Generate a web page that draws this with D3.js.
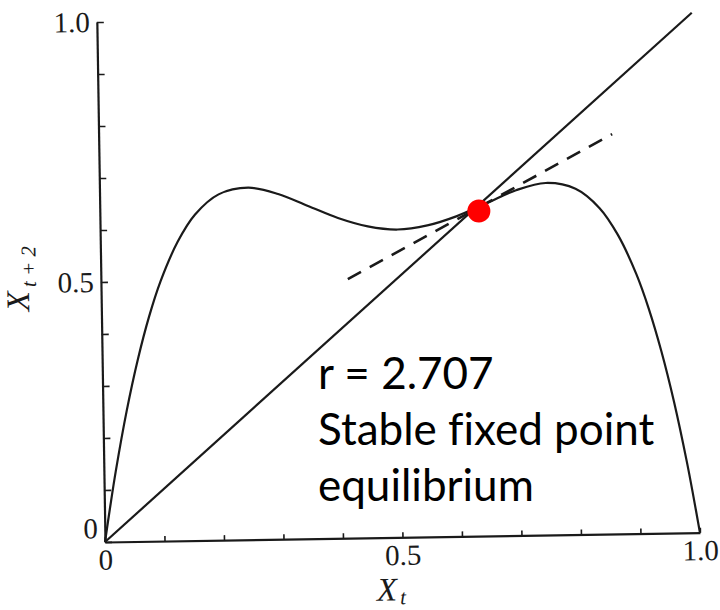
<!DOCTYPE html>
<html>
<head>
<meta charset="utf-8">
<script src="https://cdn.jsdelivr.net/npm/d3@7"></script>
<style>
  body { margin: 0; background: #fff; }
</style>
</head>
<body>
<div id="chart"></div>
<script>
// values (second iterate of the logistic map)
var curveX = [0, 0.01, 0.02, 0.04, 0.06, 0.08, 0.10, 0.13, 0.16, 0.20, 0.25, 0.30, 0.35, 0.40, 0.45, 0.50,
              0.55, 0.60, 0.65, 0.70, 0.75, 0.80, 0.84, 0.87, 0.90, 0.92, 0.94, 0.96, 0.98, 0.99, 1.0];
var curveY = [0, 0.07, 0.136, 0.252, 0.35, 0.432, 0.499, 0.575, 0.627, 0.665, 0.677, 0.664, 0.64, 0.616, 0.599, 0.592,
              0.599, 0.616, 0.64, 0.664, 0.677, 0.665, 0.627, 0.575, 0.499, 0.432, 0.35, 0.252, 0.136, 0.07, 0];
var diagX = [0, 1];
var diagY = [0, 1];
var tangentX = [0.415, 0.863];
var tangentY = [0.498, 0.769];
var fixedX = [0.637];
var fixedY = [0.625];
var tickVals = [0, 0.1, 0.2, 0.3, 0.4, 0.5, 0.6, 0.7, 0.8, 0.9, 1.0];
var tickLabels = {0: '0', 0.5: '0.5', 1: '1.0'};
var noteLines = ['r = 2.707', 'Stable fixed point', 'equilibrium'];

var width = 720;
var height = 610;
var svg = d3.select('#chart')
    .append('svg')
    .attr('width', width)
    .attr('height', height);

var x = d3.scaleLinear().domain([0, 1]).range([105, 700]);
var y = d3.scaleLinear().domain([0, 1]).range([542, 22]);

// the scan is slightly tilted
var plot = svg.append('g')
    .attr('transform', 'rotate(-0.9,' + x(0) + ',' + y(0) + ')');

var ink = '#1a1a1a';

// Axes
var xAxis = d3.axisBottom(x)
    .tickValues(tickVals)
    .tickSizeInner(-5)
    .tickSizeOuter(0)
    .tickPadding(7)
    .tickFormat(function(d) { return tickLabels[d] || ''; });

var yAxis = d3.axisLeft(y)
    .tickValues(tickVals)
    .tickSizeInner(-7)
    .tickSizeOuter(0)
    .tickPadding(7)
    .tickFormat(function(d) { return tickLabels[d] || ''; });

var gx = plot.append('g')
    .attr('transform', 'translate(0,' + y(0) + ')')
    .call(xAxis);
var gy = plot.append('g')
    .attr('transform', 'translate(' + x(0) + ',0)')
    .call(yAxis);

[gx, gy].forEach(function(g) {
  g.select('.domain').attr('stroke', ink).attr('stroke-width', 2.2);
  g.selectAll('.tick line').attr('stroke', ink).attr('stroke-width', 1.6);
  g.selectAll('.tick text')
      .attr('font-family', '"Liberation Serif", "DejaVu Serif", serif')
      .attr('font-size', 29)
      .attr('fill', ink);
});
gy.selectAll('.tick text')
    .filter(function(d) { return d === 0; })
    .attr('dy', '-0.15em');

// Lines
var line = d3.line()
    .x(function(d) { return x(d[0]); })
    .y(function(d) { return y(d[1]); });

plot.append('path')
    .datum(d3.zip(diagX, diagY))
    .attr('d', line)
    .attr('fill', 'none')
    .attr('stroke', ink)
    .attr('stroke-width', 2.2);

plot.append('path')
    .datum(d3.zip(curveX, curveY))
    .attr('d', line.curve(d3.curveCatmullRom.alpha(0.5)))
    .attr('fill', 'none')
    .attr('stroke', ink)
    .attr('stroke-width', 2.2);

plot.append('path')
    .datum(d3.zip(tangentX, tangentY))
    .attr('d', d3.line().x(function(d) { return x(d[0]); }).y(function(d) { return y(d[1]); }))
    .attr('fill', 'none')
    .attr('stroke', ink)
    .attr('stroke-width', 2.6)
    .attr('stroke-dasharray', '15,10');

plot.selectAll('circle.fixed')
    .data(d3.zip(fixedX, fixedY))
    .enter()
    .append('circle')
    .attr('class', 'fixed')
    .attr('cx', function(d) { return x(d[0]); })
    .attr('cy', function(d) { return y(d[1]); })
    .attr('r', 11.5)
    .attr('fill', '#ff0000');

// Axis titles
var yTitle = plot.append('text')
    .attr('transform', 'translate(33,310) rotate(-90)')
    .attr('font-family', '"Liberation Serif", "DejaVu Serif", serif')
    .attr('font-style', 'italic')
    .attr('fill', ink);
yTitle.append('tspan').attr('font-size', 33).text('X');
yTitle.append('tspan').attr('font-size', 21).attr('dx', 4).attr('dy', 7).text('t + 2');

var xTitle = plot.append('text')
    .attr('x', 376)
    .attr('y', 605)
    .attr('font-family', '"Liberation Serif", "DejaVu Serif", serif')
    .attr('font-style', 'italic')
    .attr('fill', ink);
xTitle.append('tspan').attr('font-size', 33).text('X');
xTitle.append('tspan').attr('font-size', 21).attr('dx', 3).attr('dy', 4).text('t');

// Annotation
var note = svg.append('g')
    .attr('font-family', 'Lato, "Open Sans", sans-serif')
    .attr('font-size', 44)
    .style('font-variant-ligatures', 'none')
    .attr('fill', '#000');
note.selectAll('text')
    .data(noteLines)
    .enter()
    .append('text')
    .attr('x', 318)
    .attr('y', function(d, i) { return 389 + i * 56; })
    .text(function(d) { return d; });
</script>
</body>
</html>
